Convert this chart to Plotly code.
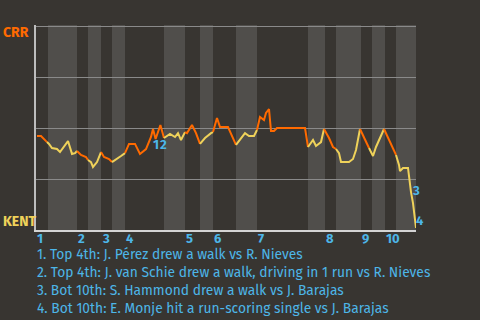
import plotly.graph_objects as go

# Game progress (plate-appearance units) and CRR win probability (%)
progress = [0.25, 1.25, 2.75, 3.25, 4.0, 5.25, 6.0, 7.0, 8.0, 9.0, 9.75,
            10.25, 11.25, 12.5, 13.0, 13.75, 14.25, 15.25, 16.25, 17.0, 18.25,
            19.0, 20.25, 21.25, 22.25, 23.25, 24.75, 26.0, 27.5, 28.75, 29.25,
            29.9, 31.1, 32.0, 33.5, 34.75, 35.5, 36.25, 37.25, 37.75, 39.0,
            40.0, 41.0, 42.25, 43.75, 44.25, 45.25, 46.0, 48.0, 50.0, 51.0,
            52.25, 53.25, 54.5, 55.25, 56.0, 57.0, 57.5, 58.25, 58.75, 59.5,
            60.25, 61.25, 62.25, 63.25, 64.25, 65.25, 66.25, 67.25, 68.0, 69.25,
            70.0, 71.25, 72.0, 73.25, 74.25, 75.0, 75.75, 76.25, 77.25, 78.25,
            79.25, 80.0, 81.0, 82.0, 83.25, 84.25, 85.0, 86.0, 87.0, 88.0,
            89.25, 90.0, 90.75, 91.0, 91.75, 93.0, 93.25, 93.75, 94.25, 94.5,
            95.0]
win_pct = [46.1, 46.1, 43.1, 42.2, 40.2, 39.7, 38.2, 40.7, 43.6, 37.3, 37.7,
           38.7, 36.8, 35.8, 34.3, 33.3, 30.9, 33.3, 38.2, 35.8, 34.8,
           33.3, 34.8, 36.3, 37.7, 42.2, 42.2, 37.3, 39.7, 45.6, 49.5,
           44.6, 51.5, 45.1, 47.1, 45.6, 47.5, 44.1, 48.0, 47.5, 51.5,
           47.5, 42.2, 45.1, 47.5, 48.0, 54.9, 50.5, 50.5, 41.7, 44.1,
           47.5, 46.1, 46.1, 49.0, 55.4, 53.9, 57.4, 59.3, 48.5, 48.5,
           50.0, 50.0, 50.0, 50.0, 50.0, 50.0, 50.0, 50.0, 40.7, 44.1,
           41.2, 43.1, 49.5, 45.1, 40.7, 39.7, 37.7, 33.3, 33.3, 33.3,
           34.8, 39.2, 49.5, 45.1, 40.2, 36.3, 40.7, 45.1, 49.5, 45.1,
           39.2, 36.8, 31.9, 28.9, 30.4, 30.4, 25.5, 18.6, 13.2, 8.3,
           1.0]

# Half-inning starts (progress units); even index = top, odd = bottom
half_starts = [0, 3, 10.25, 13, 16.25, 19, 22.25, 32, 37.25, 41,
               44.25, 50, 55.25, 68, 72.25, 75, 81.25, 84, 87.25, 90]
game_end = 95
inning_labels = ["1", "2", "3", "4", "5", "6", "7", "8", "9", "10"]

# Key events: label, progress, label y (%), label x-offset (px)
event_ids = ["1", "2", "3", "4"]
event_x = [30.1, 31.9, 95.0, 95.0]
event_y = [42.0, 42.0, 19.6, 4.9]
event_dx = [0, 0, 0, 4]
event_text = [
    "1. Top 4th: J. Pérez drew a walk vs R. Nieves",
    "2. Top 4th: J. van Schie drew a walk, driving in 1 run vs R. Nieves",
    "3. Bot 10th: S. Hammond drew a walk vs J. Barajas",
    "4. Bot 10th: E. Monje hit a run-scoring single vs J. Barajas",
]

BG = "#383531"
BAND = "#504e4b"
ORANGE = "#ff6a00"
YELLOW = "#efd25a"
BLUE = "#4db6e8"
FONT = "Fira Sans, Open Sans, sans-serif"

fig = go.Figure()

ends = half_starts[1:] + [game_end]
shapes = []
for i, (s, e) in enumerate(zip(half_starts, ends)):
    if i % 2 == 1:
        shapes.append(dict(type="rect", xref="x", yref="paper", x0=s, x1=e,
                           y0=0, y1=1, fillcolor=BAND, line_width=0, layer="below"))
    xs, ys = [], []
    prev = [k for k, v in enumerate(progress) if v <= s]
    if prev and i > 0:
        xs.append(progress[prev[-1]]); ys.append(win_pct[prev[-1]])
    for k, v in enumerate(progress):
        if (s < v <= e) or (i == 0 and v <= e):
            xs.append(v); ys.append(win_pct[k])
    fig.add_trace(go.Scatter(x=xs, y=ys, mode="lines",
                             line=dict(color=ORANGE if i % 2 == 0 else YELLOW, width=2),
                             hoverinfo="skip", showlegend=False))

annotations = []
for lbl, x0 in zip(inning_labels, half_starts[0::2]):
    annotations.append(dict(x=x0, y=0, xref="x", yref="paper", text=lbl,
                            showarrow=False, xanchor="left", yanchor="middle",
                            xshift=-1, yshift=-8,
                            font=dict(family=FONT, size=13, color=BLUE, weight="bold")))
for eid, ex, ey, dx in zip(event_ids, event_x, event_y, event_dx):
    annotations.append(dict(x=ex, y=ey, xref="x", yref="y", text=eid,
                            showarrow=False, xanchor="center", yanchor="middle",
                            xshift=dx,
                            font=dict(family=FONT, size=13, color=BLUE, weight="bold")))
for j, t in enumerate(event_text):
    annotations.append(dict(x=0, y=0, xref="paper", yref="paper", text=t,
                            showarrow=False, xanchor="left", yanchor="middle",
                            xshift=-1, yshift=-24 - 18 * j,
                            font=dict(family=FONT, size=13.8, color=BLUE)))
annotations.append(dict(x=0, y=1, xref="paper", yref="paper", text="CRR",
                        showarrow=False, xanchor="left", yanchor="middle",
                        xshift=-35, yshift=-7,
                        font=dict(family=FONT, size=14, color=ORANGE, weight="bold")))
annotations.append(dict(x=0, y=0, xref="paper", yref="paper", text="KENT",
                        showarrow=False, xanchor="left", yanchor="middle",
                        xshift=-35, yshift=9,
                        font=dict(family=FONT, size=14, color=YELLOW, weight="bold")))

fig.update_layout(
    width=480, height=320,
    margin=dict(l=36, r=64, t=25, b=90),
    paper_bgcolor=BG, plot_bgcolor=BG,
    shapes=shapes, annotations=annotations,
    xaxis=dict(range=[0, game_end], showgrid=False, zeroline=False,
               showticklabels=False, ticks="", showline=True,
               linecolor="#d4d4d4", linewidth=1.5),
    yaxis=dict(range=[0, 100.5], tickvals=[0, 25, 50, 75, 100], showgrid=True,
               gridcolor="#8a8a8a", gridwidth=1, zeroline=False,
               showticklabels=False, ticks="", showline=True,
               linecolor="#bdbdbd", linewidth=1.5),
)

fig.write_html("out.html")
